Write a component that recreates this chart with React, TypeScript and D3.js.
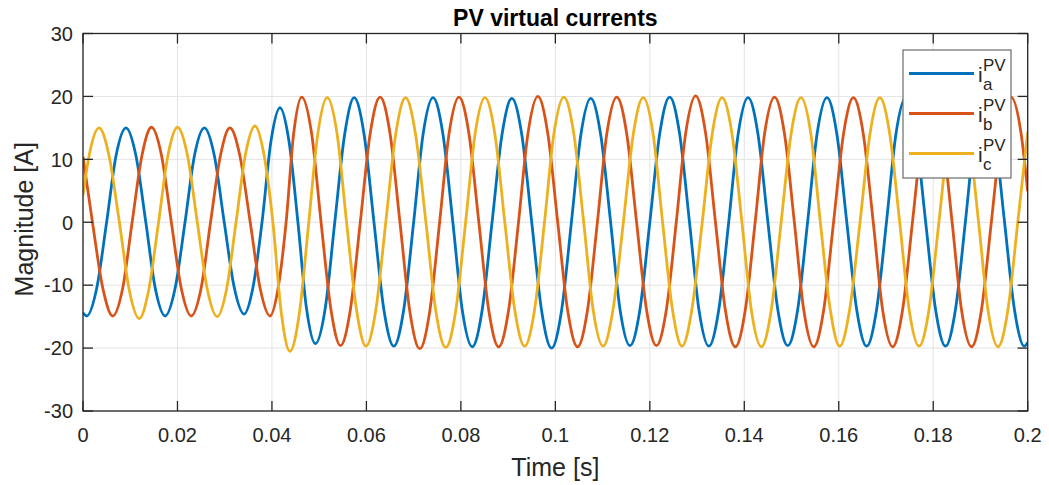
import React from "react";
import * as d3 from "d3";

// PV virtual currents, three phases (time [s], current [A])
const phaseA: [number, number][] = [
  [0, -14.4], [0.0008, -14.9], [0.0029, -10.5], [0.005, 0], [0.007, 10.6], [0.0091, 15.0],
  [0.0112, 10.6], [0.0133, 0], [0.0153, -10.5], [0.0174, -14.9],
  [0.0195, -10.5], [0.0216, 0], [0.0236, 10.6], [0.0257, 15.0],
  [0.0278, 10.6], [0.0299, 0], [0.032, -10.3], [0.0341, -14.6],
  [0.036, -10.3], [0.0379, 0], [0.0398, 12.9], [0.0417, 18.2],
  [0.0436, 12.9], [0.0455, 0], [0.0473, -13.6], [0.0492, -19.3],
  [0.0513, -13.6], [0.0533, 0], [0.0554, 14.0], [0.0574, 19.8],
  [0.0595, 14.0], [0.0616, 0], [0.0637, -13.9], [0.0658, -19.7],
  [0.0679, -13.9], [0.07, 0], [0.072, 14.0], [0.0741, 19.8],
  [0.0762, 14.0], [0.0783, 0], [0.0803, -14.0], [0.0824, -19.8],
  [0.0845, -14.0], [0.0866, 0], [0.0887, 13.9], [0.0908, 19.7],
  [0.0929, 13.9], [0.095, 0], [0.0971, -14.1], [0.0992, -20.0],
  [0.1013, -14.1], [0.1034, 0], [0.1054, 13.9], [0.1075, 19.7],
  [0.1096, 13.9], [0.1117, 0], [0.1137, -13.9], [0.1158, -19.6],
  [0.1179, -13.9], [0.12, 0], [0.1221, 14.1], [0.1242, 19.9],
  [0.1263, 14.1], [0.1284, 0], [0.1304, -13.9], [0.1325, -19.7],
  [0.1346, -13.9], [0.1367, 0], [0.1387, 14.0], [0.1408, 19.8],
  [0.1429, 14.0], [0.145, 0], [0.1471, -13.9], [0.1492, -19.6],
  [0.1513, -13.9], [0.1534, 0], [0.1554, 14.0], [0.1575, 19.8],
  [0.1596, 14.0], [0.1617, 0], [0.1638, -13.9], [0.1659, -19.7],
  [0.168, -13.9], [0.1701, 0], [0.1721, 14.0], [0.1742, 19.8],
  [0.1763, 14.0], [0.1784, 0], [0.1805, -13.9], [0.1826, -19.7],
  [0.1847, -13.9], [0.1868, 0], [0.1888, 14.0], [0.1909, 19.8],
  [0.193, 14.0], [0.1951, 0], [0.1972, -13.9], [0.1993, -19.7],
  [0.2, -19.1],
];

const phaseB: [number, number][] = [
  [0, 10.4], [0.002, 0], [0.0042, -10.5], [0.0063, -14.9],
  [0.0084, -10.5], [0.0104, 0], [0.0125, 10.7], [0.0145, 15.1],
  [0.0166, 10.7], [0.0187, 0], [0.0208, -10.5], [0.0229, -14.9],
  [0.025, -10.5], [0.027, 0], [0.0291, 10.6], [0.0311, 15.0],
  [0.0332, 10.6], [0.0354, 0], [0.0375, -10.5], [0.0396, -14.9],
  [0.0413, -10.5], [0.043, 0], [0.0446, 14.1], [0.0463, 19.9],
  [0.0484, 14.1], [0.0504, 0], [0.0525, -13.9], [0.0545, -19.6],
  [0.0566, -13.9], [0.0587, 0], [0.0608, 14.1], [0.0629, 19.9],
  [0.065, 14.1], [0.0671, 0], [0.0692, -14.2], [0.0713, -20.1],
  [0.0734, -14.2], [0.0755, 0], [0.0775, 14.1], [0.0796, 19.9],
  [0.0817, 14.1], [0.0838, 0], [0.0859, -14.0], [0.088, -19.8],
  [0.0901, -14.0], [0.0922, 0], [0.0942, 14.1], [0.0963, 20.0],
  [0.0984, 14.1], [0.1005, 0], [0.1026, -14.0], [0.1047, -19.8],
  [0.1068, -14.0], [0.1089, 0], [0.1109, 14.1], [0.113, 19.9],
  [0.1151, 14.1], [0.1172, 0], [0.1193, -13.9], [0.1214, -19.6],
  [0.1235, -13.9], [0.1256, 0], [0.1276, 14.2], [0.1297, 20.1],
  [0.1318, 14.2], [0.1339, 0], [0.136, -14.0], [0.1381, -19.8],
  [0.1402, -14.0], [0.1423, 0], [0.1443, 14.1], [0.1464, 19.9],
  [0.1485, 14.1], [0.1506, 0], [0.1526, -14.0], [0.1547, -19.8],
  [0.1568, -14.0], [0.1589, 0], [0.161, 14.0], [0.1631, 19.8],
  [0.1652, 14.0], [0.1673, 0], [0.1693, -14.0], [0.1714, -19.8],
  [0.1735, -14.0], [0.1756, 0], [0.1777, 14.0], [0.1798, 19.8],
  [0.1819, 14.0], [0.184, 0], [0.186, -14.0], [0.1881, -19.8],
  [0.1902, -14.0], [0.1923, 0], [0.1944, 14.1], [0.1965, 19.9],
  [0.1986, 14.1], [0.2, 4.9],
];

const phaseC: [number, number][] = [
  [0, 4.3], [0.0013, 10.6], [0.0034, 15.0],
  [0.0055, 10.6], [0.0077, 0], [0.0098, -10.8], [0.0119, -15.3],
  [0.0139, -10.8], [0.016, 0], [0.018, 10.7], [0.02, 15.1],
  [0.0221, 10.7], [0.0242, 0], [0.0263, -10.6], [0.0284, -15.0],
  [0.0304, -10.6], [0.0324, 0], [0.0344, 10.8], [0.0364, 15.3],
  [0.0383, 10.8], [0.0402, 0], [0.042, -14.5], [0.0438, -20.5],
  [0.0458, -14.5], [0.0478, 0], [0.0497, 14.0], [0.0517, 19.8],
  [0.0538, 14.0], [0.0558, 0], [0.0579, -13.9], [0.0599, -19.7],
  [0.062, -13.9], [0.0641, 0], [0.0662, 14.0], [0.0683, 19.8],
  [0.0704, 14.0], [0.0726, 0], [0.0747, -14.1], [0.0768, -19.9],
  [0.0789, -14.1], [0.081, 0], [0.083, 14.0], [0.0851, 19.8],
  [0.0872, 14.0], [0.0893, 0], [0.0914, -13.9], [0.0935, -19.7],
  [0.0956, -13.9], [0.0977, 0], [0.0997, 14.1], [0.1018, 19.9],
  [0.1039, 14.1], [0.106, 0], [0.108, -13.9], [0.1101, -19.7],
  [0.1122, -13.9], [0.1144, 0], [0.1165, 14.0], [0.1186, 19.8],
  [0.1207, 14.0], [0.1227, 0], [0.1248, -13.9], [0.1268, -19.7],
  [0.1289, -13.9], [0.1311, 0], [0.1332, 14.0], [0.1353, 19.8],
  [0.1374, 14.0], [0.1395, 0], [0.1415, -14.0], [0.1436, -19.8],
  [0.1457, -14.0], [0.1478, 0], [0.1499, 14.0], [0.152, 19.8],
  [0.1541, 14.0], [0.1561, 0], [0.1582, -13.9], [0.1602, -19.7],
  [0.1623, -13.9], [0.1645, 0], [0.1666, 14.0], [0.1687, 19.8],
  [0.1708, 14.0], [0.1729, 0], [0.1749, -13.9], [0.177, -19.7],
  [0.1791, -13.9], [0.1812, 0], [0.1833, 14.0], [0.1854, 19.8],
  [0.1875, 14.0], [0.1896, 0], [0.1916, -14.0], [0.1937, -19.8],
  [0.1958, -14.0], [0.1979, 0], [0.2, 14.4],
];

const phaseSubs = ["a", "b", "c"];
const phaseColors = ["#0072BD", "#D95319", "#EDB120"];

const timeTicks = [0, 0.02, 0.04, 0.06, 0.08, 0.1, 0.12, 0.14, 0.16, 0.18, 0.2];
const timeTickLabels = ["0", "0.02", "0.04", "0.06", "0.08", "0.1", "0.12", "0.14", "0.16", "0.18", "0.2"];
const magTicks = [-30, -20, -10, 0, 10, 20, 30];

const W = 1049;
const H = 485;
const plot = { left: 83, right: 1027.7, top: 33.5, bottom: 411 };
const font = "'Liberation Sans', Arial, Helvetica, sans-serif";
const ink = "#262626";

export default function App() {
  const x = d3.scaleLinear().domain([0, 0.2]).range([plot.left, plot.right]);
  const y = d3.scaleLinear().domain([-30, 30]).range([plot.bottom, plot.top]);

  const line = d3
    .line<[number, number]>()
    .x((d) => x(d[0]))
    .y((d) => y(d[1]))
    .curve(d3.curveMonotoneX);

  const series = [phaseA, phaseB, phaseC];
  const tickLen = 10;

  // legend box
  const lg = { x: 903, y: 50, w: 108, h: 128 };

  return (
    <svg
      width={W}
      height={H}
      style={{ position: "absolute", left: 0, top: 0, background: "#fff" }}
      fontFamily={font}
    >
      <rect x={0} y={0} width={W} height={H} fill="#fff" />
      <defs>
        <clipPath id="plotClip">
          <rect x={plot.left} y={plot.top} width={plot.right - plot.left} height={plot.bottom - plot.top} />
        </clipPath>
      </defs>

      {/* grid */}
      <g stroke="#e3e3e3" strokeWidth={1}>
        {timeTicks.map((t) => (
          <line key={"gx" + t} x1={x(t)} x2={x(t)} y1={plot.top} y2={plot.bottom} />
        ))}
        {magTicks.map((v) => (
          <line key={"gy" + v} x1={plot.left} x2={plot.right} y1={y(v)} y2={y(v)} />
        ))}
      </g>

      {/* currents */}
      <g clipPath="url(#plotClip)" fill="none" strokeWidth={2.8} strokeLinejoin="round">
        {series.map((s, i) => (
          <path key={i} d={line(s) || ""} stroke={phaseColors[i]} />
        ))}
      </g>

      {/* axes box and ticks */}
      <g stroke={ink} strokeWidth={1.3} fill="none">
        <rect x={plot.left} y={plot.top} width={plot.right - plot.left} height={plot.bottom - plot.top} />
        {timeTicks.map((t) => (
          <g key={"tx" + t}>
            <line x1={x(t)} x2={x(t)} y1={plot.bottom} y2={plot.bottom - tickLen} />
            <line x1={x(t)} x2={x(t)} y1={plot.top} y2={plot.top + tickLen} />
          </g>
        ))}
        {magTicks.map((v) => (
          <g key={"ty" + v}>
            <line x1={plot.left} x2={plot.left + tickLen} y1={y(v)} y2={y(v)} />
            <line x1={plot.right} x2={plot.right - tickLen} y1={y(v)} y2={y(v)} />
          </g>
        ))}
      </g>

      {/* tick labels */}
      <g fill={ink} fontSize={20}>
        {timeTicks.map((t, i) => (
          <text key={"lx" + t} x={x(t)} y={plot.bottom + 31} textAnchor="middle">
            {timeTickLabels[i]}
          </text>
        ))}
        {magTicks.map((v) => (
          <text key={"ly" + v} x={plot.left - 10} y={y(v) + 7.3} textAnchor="end">
            {v}
          </text>
        ))}
      </g>

      {/* title and axis labels */}
      <text x={(plot.left + plot.right) / 2} y={25.5} textAnchor="middle" fontSize={23} fontWeight="bold" fill="#000">
        PV virtual currents
      </text>
      <text x={(plot.left + plot.right) / 2} y={476} textAnchor="middle" fontSize={25} fill={ink}>
        Time [s]
      </text>
      <text
        transform={`translate(33,${(plot.top + plot.bottom) / 2 - 3}) rotate(-90)`}
        textAnchor="middle"
        fontSize={25}
        fill={ink}
      >
        Magnitude [A]
      </text>

      {/* legend */}
      <g>
        <rect x={lg.x} y={lg.y} width={lg.w} height={lg.h} fill="#fff" stroke="#6b6b6b" strokeWidth={1.2} />
        {phaseSubs.map((sub, i) => {
          const cy = lg.y + 23.5 + i * 40;
          return (
            <g key={sub}>
              <line x1={lg.x + 6} x2={lg.x + 71} y1={cy} y2={cy} stroke={phaseColors[i]} strokeWidth={2.8} />
              <text x={lg.x + 75} y={cy + 8} fontSize={21} fill={ink}>
                i
              </text>
              <text x={lg.x + 80} y={cy + 16} fontSize={17} fill={ink}>
                {sub}
              </text>
              <text x={lg.x + 80} y={cy - 3} fontSize={17} fill={ink}>
                PV
              </text>
            </g>
          );
        })}
      </g>
    </svg>
  );
}
